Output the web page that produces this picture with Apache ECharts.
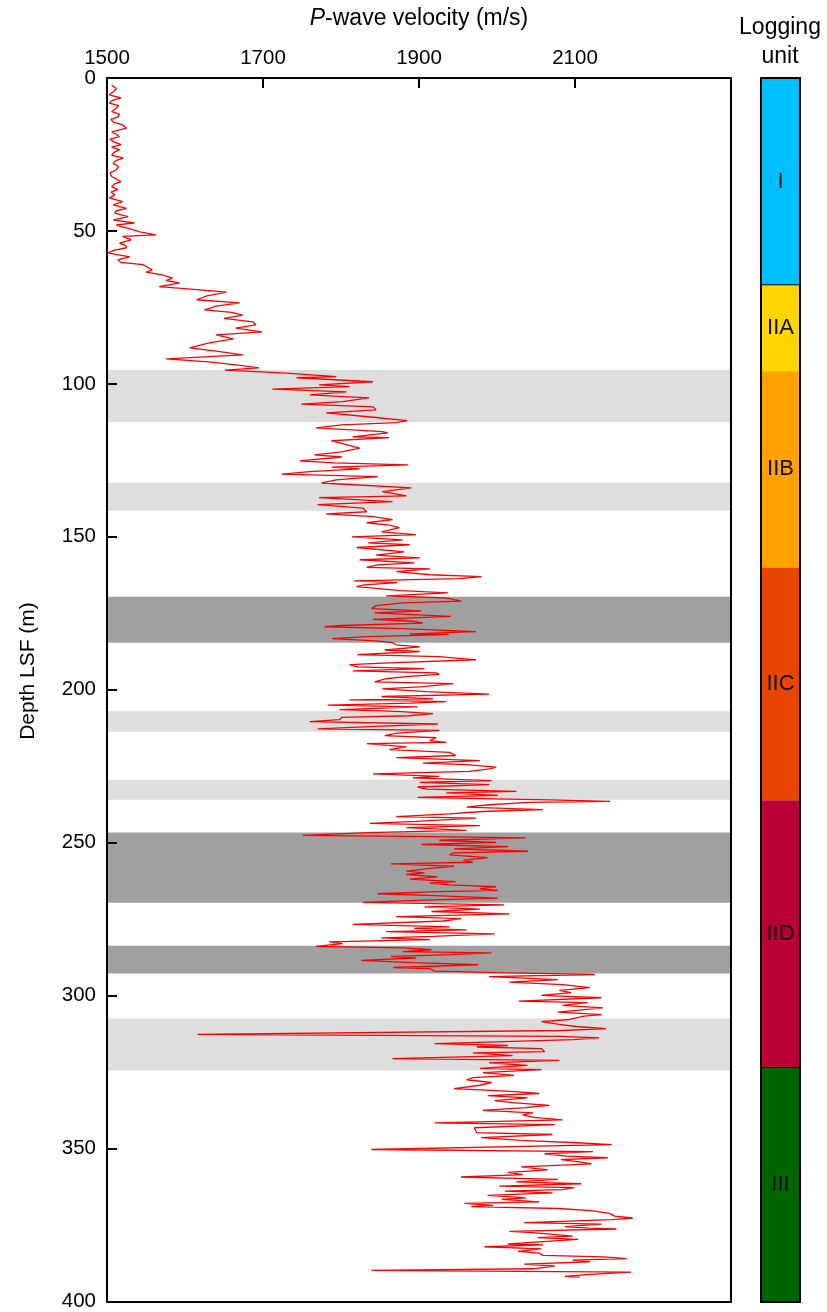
<!DOCTYPE html>
<html>
<head>
<meta charset="utf-8">
<script src="https://cdn.jsdelivr.net/npm/echarts@6.0.0/dist/echarts.min.js"></script>
<style>
  html, body { margin: 0; padding: 0; background: #fff; }
  #chart { width: 827px; height: 1312px; }
</style>
</head>
<body>
<div id="chart"></div>
<script>
const depthM = [2.3,3.5,4.5,5.5,6.5,7.3,8.2,9.0,9.8,11,11.8,12.7,13.5,14.4,15.3,16.4,17.6,18.4,19.2,20.0,20.8,21.8,22.6,23.5,24.3,25.2,26.2,27.0,27.9,29.0,30,31.0,32.2,33.0,33.9,34.7,35.5,36.5,37.3,38.2,39.2,40.4,41.5,42.6,43.4,44.2,45.3,46.4,47.4,48.0,48.6,49.4,50.3,51.3,51.8,52.9,54,54.8,55.5,56.3,57.2,58.5,59.5,60.3,
  61,62.7,63.5,64.4,65.4,66.2,67,68.2,69.3,70,71.2,72.5,73.5,74.6,75.8,76.6,77.5,78.6,79.7,80.7,81.8,83,84,85.3,86.6,88.2,89.3,90.5,91.8,92.8,93.8,94.8,95.5,96.4,97.6,98,99.3,100.3,100.9,101.7,102.6,103.6,104.6,105.8,106.6,107.5,108.5,109.5,111,112,112.7,113.4,114.4,115.6,116,117.3,117.6,118.6,119.9,121,122.2,123.2,123.9,125.2,125.8,126.5,127.2,127.8,128.7,129.5,130.3,131.4,132.4,134,135.2,136.6,137.2,138.5,139.5,140.6,141.8,142.5,143.4,144.4,145.4,146.2,147,148.4,149.3,150,151,152,152.6,153.5,154.9,156,156.9,157.5,158.5,159.2,160,160.5,161.4,162.4,163,163.7,164.4,165,165.7,166.3,167.6,168.3,169.3,170,171,171.6,172.5,173.5,174.2,174.9,176,177,177.6,178.2,179,179.4,180,181,181.7,182,182.6,183.3,184,184.6,185.3,186,187,187.5,188.5,189.2,190.2,191.2,191.8,192.5,193.1,193.8,194.5,195,195.7,196.4,197.4,198,199,199.7,200.6,201.4,202.2,203,203.3,203.9,204.4,205,205.6,206.5,207.1,207.8,208.5,209,209.8,210.4,211.2,212,212.8,213.3,214.2,215,215.7,216.6,217.2,217.6,218.7,219.6,220.5,221.5,222.2,223.2,224,224.5,225.3,225.9,226.7,227.5,228.3,228.8,229.7,230.3,231,231.8,232.5,233.2,233.7,234.5,235.2,236,236.5,236.8,237.6,238.4,239.2,239.8,240.6,241.5,242,243,243.7,244.4,245.1,246,246.7,247.6,248,248.4,249.2,249.9,250.6,251.3,252,252.8,253.3,254,254.9,255.8,256.4,256.9,257.7,258.5,259.3,259.9,260.4,261.2,261.9,262.7,263.2,263.8,264.4,265.1,265.6,266.1,266.7,267.3,268.1,268.8,269.5,270.3,271,271.7,272.5,273.3,274.2,274.8,275.6,276.7,277.5,278,278.5,279.1,279.8,280.6,281.1,281.7,282.4,283,283.9,284.4,285,285.6,286,286.6,287.2,287.7,288.5,289.2,289.9,290.8,291.2,292,292.5,293.1,293.8,294.8,295.6,296.4,297.4,298.3,299,299.9,300.7,301.8,302.3,303.2,304,304.8,305.4,306.2,306.7,307.8,308.5,309.4,310.1,310.8,311.4,312.7,313.3,313.8,314.4,315.7,316.3,316.8,317.3,318.3,318.7,319.6,320.6,321.2,322,322.8,323.8,324.2,325.2,326.1,326.8,327.5,328.4,329.3,330.4,331.3,332,332.7,333.4,334.3,335,335.9,336.6,337.5,338.3,339.1,339.8,340.6,341.6,342.2,343.2,343.8,344.8,345.4,346.4,347.3,348.1,348.7,350.3,351,351.7,352.5,353,353.6,354.4,355,356,357,357.8,358.5,359.3,360.1,360.9,361.5,362.3,362.8,363.4,363.9,364.5,365.3,366.1,366.6,367.4,367.9,368.6,369,369.6,370.4,371.2,372.1,372.7,373.2,374.2,374.7,375.5,376,376.3,377.1,377.5,378.6,379.1,379.7,380.5,381.2,381.5,382.1,382.8,383.6,384.2,384.9,385.4,386,386.5,387,387.8,388.4,389.3,389.8,390.4,391.2,391.8,392];

const vpMs = [1506,1512,1508,1503,1518,1507,1503,1515,1512,1506,1516,1514,1505,1508,1520,1525,1506,1512,1516,1504,1508,1518,1506,1516,1509,1506,1521,1511,1508,1515,1512,1504,1506,1512,1518,1509,1506,1514,1505,1510,1503,1520,1508,1525,1512,1510,1527,1508,1535,1512,1518,1531,1542,1563,1520,1531,1516,1524,1525,1510,1501,1529,1514,1518,
  1546,1558,1550,1571,1584,1576,1593,1567,1619,1653,1628,1615,1670,1640,1625,1660,1674,1650,1687,1691,1665,1699,1640,1662,1631,1606,1640,1674,1576,1630,1666,1695,1651,1725,1794,1743,1841,1772,1811,1712,1807,1760,1836,1802,1749,1841,1845,1781,1845,1885,1871,1801,1768,1853,1860,1815,1862,1788,1807,1824,1801,1766,1801,1747,1792,1886,1788,1824,1760,1724,1847,1794,1775,1890,1853,1884,1772,1866,1770,1828,1833,1781,1841,1866,1833,1862,1875,1852,1896,1814,1879,1835,1888,1820,1881,1845,1901,1824,1894,1847,1833,1914,1871,1914,1980,1952,1817,1872,1830,1820,1877,1937,1858,1935,1954,1879,1845,1839,1903,1843,1941,1841,1892,1905,1801,1779,1879,1973,1888,1938,1833,1789,1845,1866,1871,1901,1856,1901,1821,1926,1973,1862,1811,1821,1907,1815,1922,1926,1884,1858,1843,1944,1905,1853,1910,1990,1852,1918,1811,1935,1888,1783,1898,1798,1872,1918,1888,1801,1798,1760,1924,1845,1770,1926,1872,1856,1922,1914,1935,1833,1884,1862,1939,1947,1871,1978,1905,1961,1999,1990,1965,1841,1926,1892,1993,1901,1990,1898,1910,2025,1935,2001,1898,2067,2145,2042,1990,1961,2059,1982,1939,1871,1973,1896,1837,1978,1884,1961,1833,1751,1914,2037,1926,1999,1903,2014,1945,2040,1944,1939,1988,1957,1969,1864,1945,1911,1884,1907,1884,1924,1888,1947,1914,1939,1999,1978,2001,1914,1847,1920,2001,1905,1828,2009,1907,1978,1916,2016,1871,1954,1931,1815,1939,1894,1961,1858,1997,1918,1852,1914,1785,1802,1768,1881,1916,1879,1993,1941,1864,1896,1826,1892,1976,1867,1914,1920,1999,2125,1990,2078,2016,2084,2119,2080,2095,2057,2134,2028,2116,2084,2136,2102,2078,2134,2112,2093,2057,2080,2102,2140,2084,1616,2080,2131,2098,1920,2014,1974,2057,2061,1969,2020,1866,2080,1990,2039,1978,2057,1982,2022,1969,1961,1993,1978,1945,2018,2054,1988,2039,1997,2020,2067,2037,1982,2046,2033,2048,2084,1920,2074,1971,1971,1974,2071,1980,2031,2102,2147,1839,2123,2061,2089,2142,2082,2108,2121,2031,2065,2014,2033,1954,2078,2025,2108,2003,2099,2084,2010,2071,1988,2037,2006,2054,1958,1995,1967,2080,2123,2144,2151,2174,2148,2035,2134,2087,2119,2153,2016,2046,2097,2052,2104,2054,2014,2059,1984,2057,2027,2054,2059,2136,2166,2097,2119,2035,2074,2046,1839,2172,2115,2087,2106];

// shaded depth intervals
const lightBands = [[95.5, 112.5], [132.3, 141.5], [207, 213.7], [229.4, 236], [307.5, 324.5]];
const darkBands = [[169.6, 184.6], [246.7, 269.6], [283.7, 292.8]];

// logging units
const unitNames = ['I', 'IIA', 'IIB', 'IIC', 'IID', 'III'];
const unitTop = [0, 67.7, 95.8, 160, 236, 323.5];
const unitBase = [67.7, 95.8, 160, 236, 323.5, 400];
const unitColors = ['#00BFFF', '#FFD500', '#FFA200', '#E84500', '#B80034', '#006400'];
const unitBreaks = [67.7, 323.5];

const velTicks = [1500, 1700, 1900, 2100];

const chart = echarts.init(document.getElementById('chart'), null, { renderer: 'canvas' });

const font = 'Liberation Sans, Arial, sans-serif';
const frameLine = { show: true, onZero: false, lineStyle: { color: '#000', width: 2 } };
const bare = { axisLine: frameLine, axisTick: { show: false }, axisLabel: { show: false }, splitLine: { show: false } };

const bandData = lightBands.map(b => [b[0], b[1], 0]).concat(darkBands.map(b => [b[0], b[1], 1]));
const unitData = unitNames.map((n, i) => [unitTop[i], unitBase[i], i]);

const option = {
  animation: false,
  backgroundColor: '#fff',
  textStyle: { fontFamily: font },
  grid: [
    { left: 107, top: 78, width: 624, height: 1224 },
    { left: 761, top: 78, width: 39, height: 1224 }
  ],
  xAxis: [
    {
      gridIndex: 0, type: 'value', position: 'top', min: 1500, max: 2300, interval: 200, z: 10,
      axisLine: frameLine,
      axisTick: { inside: true, length: 10, lineStyle: { color: '#000', width: 2 } },
      axisLabel: {
        color: '#000', fontSize: 20.5, fontFamily: font, margin: 9,
        formatter: v => (velTicks.indexOf(v) >= 0 ? String(v) : '')
      },
      splitLine: { show: false }
    },
    Object.assign({ gridIndex: 0, type: 'value', position: 'bottom', min: 1500, max: 2300, z: 10 }, bare),
    Object.assign({ gridIndex: 1, type: 'value', position: 'top', min: 0, max: 1, z: 10 }, bare),
    Object.assign({ gridIndex: 1, type: 'value', position: 'bottom', min: 0, max: 1, z: 10 }, bare)
  ],
  yAxis: [
    {
      gridIndex: 0, type: 'value', inverse: true, min: 0, max: 400, interval: 50, z: 10,
      axisLine: frameLine,
      axisTick: { inside: true, length: 10, lineStyle: { color: '#000', width: 2 } },
      axisLabel: { color: '#000', fontSize: 20.5, fontFamily: font, margin: 11 },
      splitLine: { show: false }
    },
    Object.assign({ gridIndex: 0, type: 'value', position: 'right', inverse: true, min: 0, max: 400, z: 10 }, bare),
    Object.assign({ gridIndex: 1, type: 'value', position: 'left', inverse: true, min: 0, max: 400, z: 10 }, bare),
    Object.assign({ gridIndex: 1, type: 'value', position: 'right', inverse: true, min: 0, max: 400, z: 10 }, bare)
  ],
  series: [
    {
      // grey depth bands across the whole plot
      type: 'custom', xAxisIndex: 0, yAxisIndex: 0, z: 1, silent: true,
      data: bandData,
      renderItem: (params, api) => {
        const p0 = api.coord([1500, api.value(0)]);
        const p1 = api.coord([2300, api.value(1)]);
        return {
          type: 'rect',
          shape: { x: p0[0], y: p0[1], width: p1[0] - p0[0], height: p1[1] - p0[1] },
          style: { fill: api.value(2) ? '#A0A0A0' : '#DEDEDE' }
        };
      }
    },
    {
      type: 'line', xAxisIndex: 0, yAxisIndex: 0, z: 3,
      showSymbol: false, symbol: 'none',
      lineStyle: { color: '#FF0000', width: 1.3 },
      data: depthM.map((d, i) => [vpMs[i], d])
    },
    {
      // logging unit column
      type: 'custom', xAxisIndex: 2, yAxisIndex: 2, z: 2, silent: true,
      data: unitData,
      renderItem: (params, api) => {
        const i = api.value(2);
        const p0 = api.coord([0, api.value(0)]);
        const p1 = api.coord([1, api.value(1)]);
        const children = [
          {
            type: 'rect',
            shape: { x: p0[0], y: p0[1], width: p1[0] - p0[0], height: p1[1] - p0[1] },
            style: { fill: unitColors[i] }
          },
          {
            type: 'text',
            x: (p0[0] + p1[0]) / 2, y: (p0[1] + p1[1]) / 2,
            style: {
              text: unitNames[i], fill: '#111', fontSize: 22, fontFamily: font,
              align: 'center', verticalAlign: 'middle'
            }
          }
        ];
        if (unitBreaks.indexOf(api.value(1)) >= 0) {
          children.push({
            type: 'line',
            shape: { x1: p0[0], y1: p1[1], x2: p1[0], y2: p1[1] },
            style: { stroke: '#000', lineWidth: 2 }
          });
        }
        return { type: 'group', children };
      }
    }
  ],
  graphic: [
    {
      type: 'text', x: 419, y: 19, z: 20,
      style: {
        text: '{i|P}-wave velocity (m/s)',
        fontSize: 23, fontFamily: font, fill: '#000', align: 'center', verticalAlign: 'middle',
        rich: { i: { fontStyle: 'italic', fontSize: 23, fontFamily: font } }
      }
    },
    {
      type: 'text', x: 28, y: 671, rotation: Math.PI / 2, z: 20,
      style: {
        text: 'Depth LSF (m)', fontSize: 21, fontFamily: font, fill: '#000',
        align: 'center', verticalAlign: 'middle'
      }
    },
    {
      type: 'text', x: 780, y: 42, z: 20,
      style: {
        text: 'Logging\nunit', fontSize: 23, lineHeight: 29, fontFamily: font, fill: '#000',
        align: 'center', verticalAlign: 'middle'
      }
    }
  ]
};

chart.setOption(option);
</script>
</body>
</html>
